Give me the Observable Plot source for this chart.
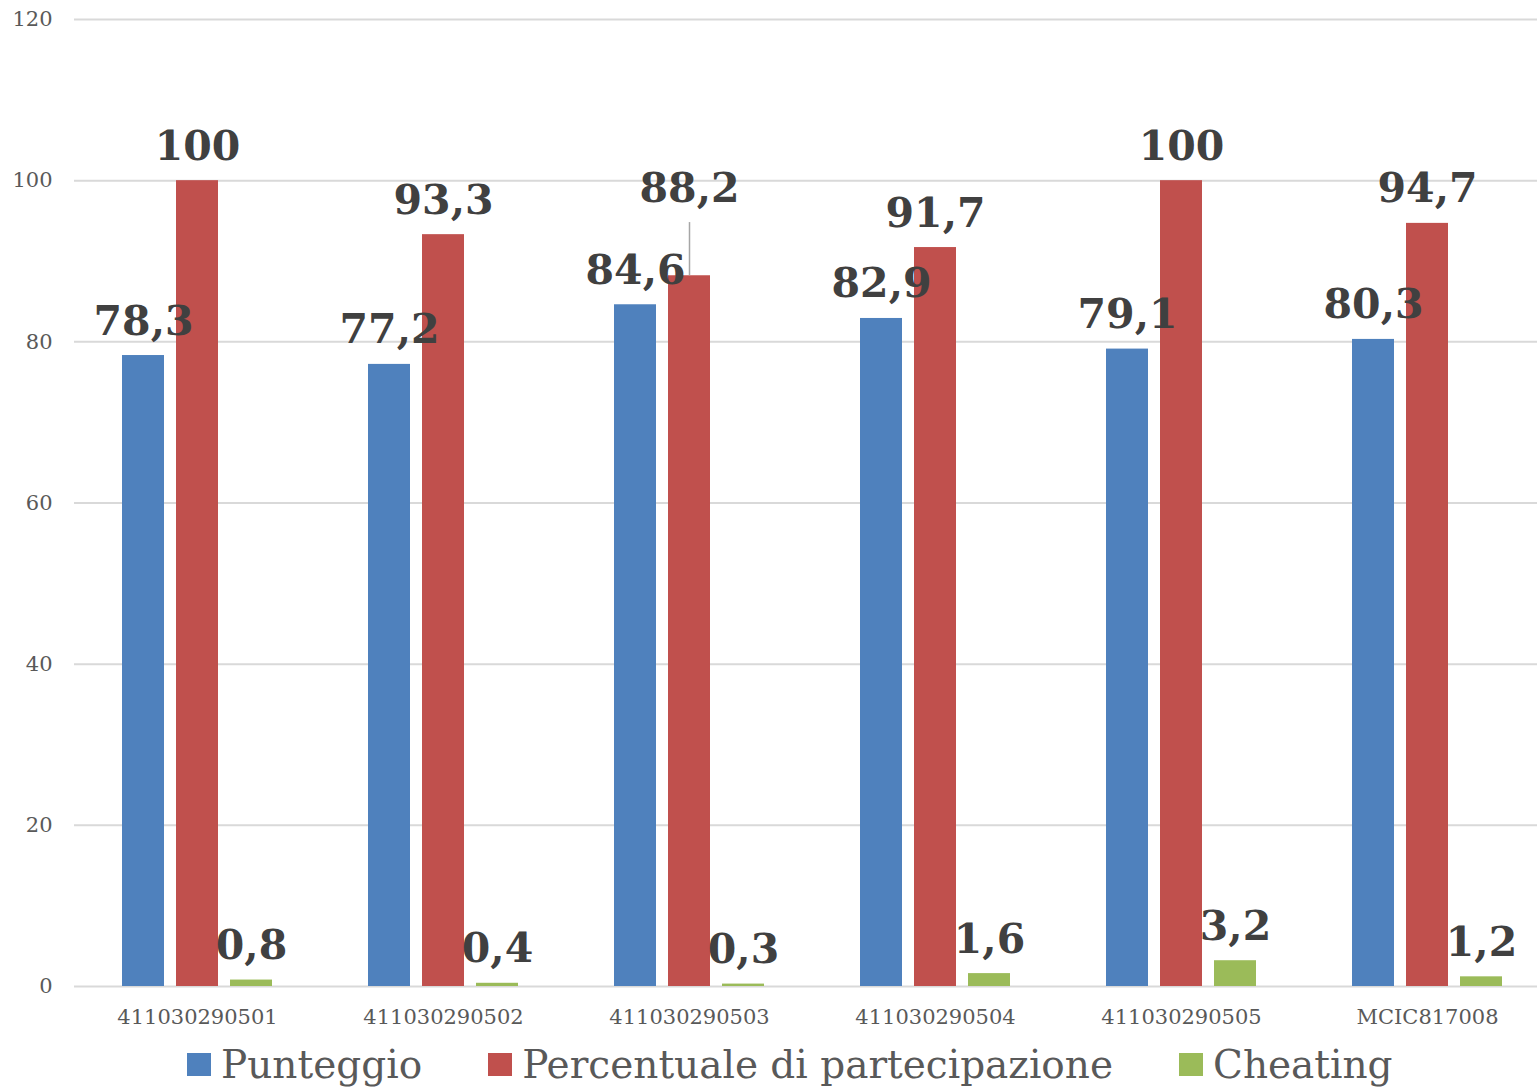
<!DOCTYPE html>
<html>
<head>
<meta charset="utf-8">
<script src="https://cdn.jsdelivr.net/npm/d3@7"></script>
<script src="https://cdn.jsdelivr.net/npm/@observablehq/plot@0.6"></script>
<style>
  html, body { margin: 0; padding: 0; background: #fff; overflow: hidden; }
  #chart { width: 1537px; height: 1040px; overflow: hidden; }
  #chart svg { display: block; max-width: none !important; width: 1551px !important; height: 1040px !important; }
  #legend {
    display: flex; justify-content: flex-start; align-items: center;
    gap: 66px; height: 49px; padding-left: 187px;
    font-family: "DejaVu Serif", serif; font-size: 39px; color: #595959;
  }
  #legend .item { display: flex; align-items: center; gap: 10px; }
  #legend .sw { width: 24px; height: 23px; display: inline-block; }
</style>
</head>
<body>
<div id="chart"></div>
<div id="legend"></div>
<script>
const categories = ["411030290501", "411030290502", "411030290503", "411030290504", "411030290505", "MCIC817008"];
const seriesNames = ["Punteggio", "Percentuale di partecipazione", "Cheating"];
const punteggio = [78.3, 77.2, 84.6, 82.9, 79.1, 80.3];
const partecipazione = [100, 93.3, 88.2, 91.7, 100, 94.7];
const cheating = [0.8, 0.4, 0.3, 1.6, 3.2, 1.2];
const yTicks = [0, 20, 40, 60, 80, 100, 120];
const colors = ["#4F81BD", "#C0504D", "#9BBB59"];

// label that was moved up with a leader line in the original
const movedLabel = {category: "411030290503", series: "Percentuale di partecipazione", top: 94.8};

const seriesValues = [punteggio, partecipazione, cheating];
const data = [];
categories.forEach((c, i) => {
  seriesNames.forEach((s, j) => {
    data.push({category: c, series: s, value: seriesValues[j][i]});
  });
});
const fmt = v => String(v).replace(".", ",");
const isMoved = d => d.category === movedLabel.category && d.series === movedLabel.series;

const chart = Plot.plot({
  width: 1551,
  height: 1040,
  marginLeft: 72,
  marginRight: 0,
  marginTop: 19,
  marginBottom: 54,
  style: {fontFamily: "DejaVu Serif, serif", background: "#fff"},
  fx: {domain: categories, padding: 0, label: null},
  x: {domain: seriesNames, paddingInner: 0.218, paddingOuter: 0.85, axis: null},
  y: {domain: [0, 120], label: null},
  color: {domain: seriesNames, range: colors},
  marks: [
    Plot.gridY(yTicks, {stroke: "#d9d9d9", strokeOpacity: 1, strokeWidth: 2}),
    Plot.axisY(yTicks, {tickSize: 0, tickPadding: 22, fontSize: 21, fill: "#595959", label: null}),
    Plot.axisFx({anchor: "bottom", tickSize: 0, tickPadding: 23, fontSize: 21, fill: "#595959", label: null}),
    Plot.barY(data, {fx: "category", x: "series", y: "value", fill: "series"}),
    Plot.ruleX(data.filter(isMoved), {fx: "category", x: "series", y1: "value", y2: () => movedLabel.top, stroke: "#a6a6a6", strokeWidth: 1.5}),
    Plot.text(data, {
      fx: "category", x: "series",
      y: d => isMoved(d) ? movedLabel.top : d.value,
      text: d => fmt(d.value),
      lineAnchor: "bottom", dy: -21,
      fontSize: 41, fontWeight: "bold", fill: "#404040",
      fontFamily: "DejaVu Serif, serif"
    })
  ]
});
document.getElementById("chart").appendChild(chart);

const legend = document.getElementById("legend");
seriesNames.forEach((s, j) => {
  const item = document.createElement("div");
  item.className = "item";
  const sw = document.createElement("span");
  sw.className = "sw";
  sw.style.background = colors[j];
  const t = document.createElement("span");
  t.textContent = s;
  item.appendChild(sw);
  item.appendChild(t);
  legend.appendChild(item);
});
</script>
</body>
</html>
